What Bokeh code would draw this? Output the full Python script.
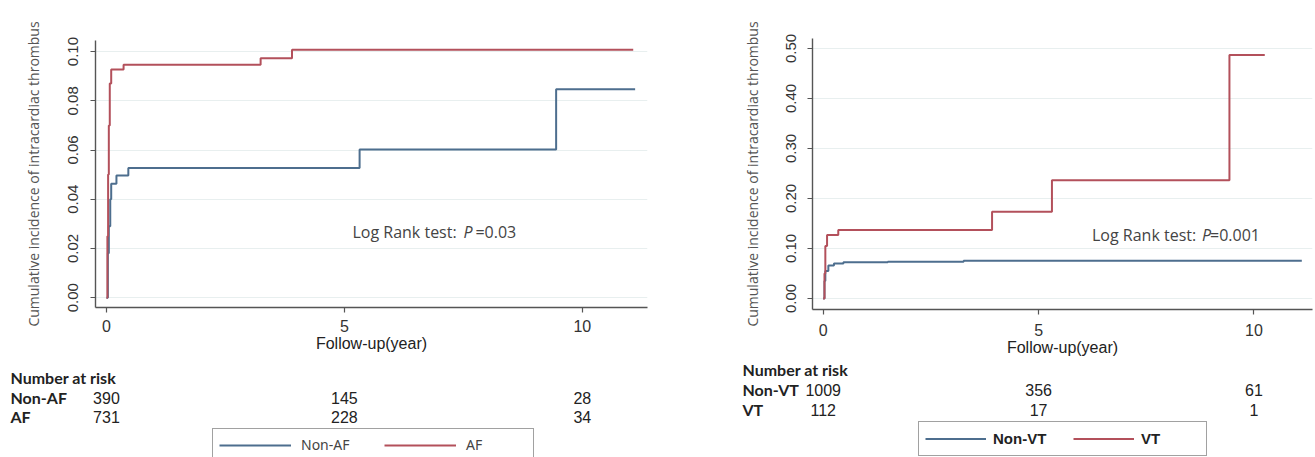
from bokeh.plotting import figure
from bokeh.models import Range1d, NumeralTickFormatter, FixedTicker, Label, Legend, LegendItem
from bokeh.layouts import row, column
from bokeh.embed import file_html
from bokeh.resources import INLINE
from bokeh.core.properties import value

# ---------------- data ----------------
# Panel A: AF vs Non-AF (cumulative incidence, step after)
af_time = [0, 0.02, 0.035, 0.05, 0.07, 0.10, 0.36, 3.24, 3.90, 11.07]
af_inc = [0, 0.025, 0.05, 0.07, 0.087, 0.0927, 0.0946, 0.0973, 0.1007, 0.1007]
nonaf_time = [0, 0.03, 0.05, 0.08, 0.10, 0.21, 0.46, 5.32, 9.45, 11.11]
nonaf_inc = [0, 0.018, 0.029, 0.040, 0.0463, 0.0496, 0.0527, 0.0602, 0.0847, 0.0847]

# Panel B: VT vs Non-VT
vt_time = [0, 0.03, 0.05, 0.09, 0.35, 3.92, 5.31, 9.43, 10.25]
vt_inc = [0, 0.05, 0.105, 0.127, 0.137, 0.1736, 0.2366, 0.487, 0.487]
nonvt_time = [0, 0.03, 0.05, 0.12, 0.25, 0.47, 1.5, 3.26, 11.11]
nonvt_inc = [0, 0.035, 0.055, 0.066, 0.070, 0.0725, 0.0735, 0.0755, 0.0755]

risk_times = [0, 5, 10]
risk_nonaf = [390, 145, 28]
risk_af = [731, 228, 34]
risk_nonvt = [1009, 356, 61]
risk_vt = [112, 17, 1]

x_ticks = [0, 5, 10]
y_ticks_a = [0.0, 0.02, 0.04, 0.06, 0.08, 0.10]
y_ticks_b = [0.0, 0.1, 0.2, 0.3, 0.4, 0.5]

BLUE = "#4d6e8e"
RED = "#b3505b"
GRID = "#e8efef"
AXIS = "#555555"

YLABEL = "Cumulative incidence of intracardiac thrombus"
XLABEL = "Follow-up(year)"

MAIN_H = 358
TABLE_H = 99


def no_align(fig):
    try:
        fig.frame_align = False
    except AttributeError:
        pass


def main_plot(width, xr, yr, yticks, borders, series, logrank, stand):
    bl, br, bt, bb = borders
    p = figure(width=width, height=MAIN_H, x_range=Range1d(*xr), y_range=Range1d(*yr),
               output_backend="svg", toolbar_location=None,
               min_border_left=bl, min_border_right=br, min_border_top=bt, min_border_bottom=bb)
    no_align(p)
    p.outline_line_color = None
    p.background_fill_color = "white"
    p.xgrid.visible = False
    p.ygrid.grid_line_color = GRID
    p.ygrid.grid_line_width = 1.2
    p.xaxis.ticker = FixedTicker(ticks=x_ticks)
    p.yaxis.ticker = FixedTicker(ticks=yticks)
    p.yaxis.formatter = NumeralTickFormatter(format="0.00")
    p.yaxis.major_label_orientation = "vertical"
    for ax in (p.xaxis, p.yaxis):
        ax.axis_line_color = AXIS
        ax.axis_line_width = 1.4
        ax.major_tick_line_color = AXIS
        ax.major_tick_line_width = 1.2
        ax.major_tick_in = 0
        ax.major_tick_out = 5
        ax.minor_tick_line_color = None
        ax.major_label_text_font = "Liberation Sans"
        ax.major_label_text_color = "#333333"
    ys, yls, xs = stand
    p.yaxis.major_label_text_font_size = "15px"
    p.xaxis.major_label_text_font_size = "16px"
    p.yaxis.major_label_standoff = ys
    p.xaxis.major_label_standoff = xs
    p.yaxis.axis_label = YLABEL
    p.yaxis.axis_label_text_font = "Open Sans"
    p.yaxis.axis_label_text_font_size = "14px"
    p.yaxis.axis_label_text_font_style = "normal"
    p.yaxis.axis_label_text_color = "#555555"
    p.yaxis.axis_label_standoff = yls
    p.xaxis.axis_label = XLABEL
    p.xaxis.axis_label_text_font = "Liberation Sans"
    p.xaxis.axis_label_text_font_size = "16px"
    p.xaxis.axis_label_text_font_style = "normal"
    p.xaxis.axis_label_text_color = "#222222"
    p.xaxis.axis_label_standoff = 0
    for t, y, c in series:
        p.step(x=t, y=y, mode="after", line_color=c, line_width=2)
    lx, ly, off_p, off_v, val = logrank
    common = dict(x=lx, y=ly, text_font="Open Sans", text_font_size="16px",
                  text_color="#444444", text_baseline="middle")
    p.add_layout(Label(text="Log Rank test:", **common))
    p.add_layout(Label(text="P", x_offset=off_p, text_font_style="italic", **common))
    p.add_layout(Label(text=val, x_offset=off_v, **common))
    return p


def table_plot(width, xr, main_borders, rows, label_off, legend_cfg):
    bl, br = main_borders
    scale = (xr[1] - xr[0]) / (width - bl - br)
    start = xr[0] - bl * scale
    end = start + width * scale
    t = figure(width=width, height=TABLE_H, x_range=Range1d(start, end), y_range=Range1d(0, TABLE_H),
               output_backend="svg", toolbar_location=None, min_border=0,
               min_border_left=0, min_border_right=0, min_border_top=0, min_border_bottom=0,
               x_axis_type=None, y_axis_type=None)
    no_align(t)
    t.outline_line_color = None
    t.xgrid.visible = False
    t.ygrid.visible = False
    lab = dict(x_offset=label_off, text_font=value("Lato"), text_font_style="bold",
               text_font_size="16px", text_color="#222222", text_baseline="middle",
               text_align="left")
    t.text(x=[start], y=[rows[0]], text=["Number at risk"], **lab)
    for name, counts, yy in rows[1:]:
        t.text(x=[start], y=[yy], text=[name], **lab)
        t.text(x=risk_times, y=[yy] * len(risk_times), text=[str(c) for c in counts],
               text_font=value("Liberation Sans"), text_font_size="16px",
               text_color="#222222", text_baseline="middle", text_align="center")
    (labels, loc, gw, gh, standoff, lw, spacing, pad, font, fsize, fstyle, fcolor) = legend_cfg
    # legend-only renderers (single point far below the visible range draws no line)
    r1 = t.line(x=[0], y=[-1000], line_color=BLUE, line_width=2)
    r2 = t.line(x=[0], y=[-1000], line_color=RED, line_width=2)
    leg = Legend(items=[LegendItem(label=labels[0], renderers=[r1]),
                        LegendItem(label=labels[1], renderers=[r2])],
                 orientation="horizontal", location=loc, glyph_width=gw, glyph_height=gh,
                 label_standoff=standoff, label_width=lw, label_height=gh,
                 spacing=spacing, padding=pad, margin=0,
                 border_line_color="#444444", border_line_width=1,
                 background_fill_color="white", background_fill_alpha=1,
                 label_text_font=font, label_text_font_size=fsize,
                 label_text_font_style=fstyle, label_text_color=fcolor)
    t.add_layout(leg, "center")
    return t


# ---------------- Panel A ----------------
WA = 660
xa = (-0.23, 11.37)
ya = (-0.004, 0.1045)
pa = main_plot(WA, xa, ya, y_ticks_a, (95, 13, 40, 51),
               [(nonaf_time, nonaf_inc, BLUE), (af_time, af_inc, RED)],
               (5.17, 0.0265, 111, 123, "=0.03"), (12, 23, 7))
ta = table_plot(WA, xa, (95, 13),
                [80, ("Non-AF", risk_nonaf, 60), ("AF", risk_af, 41)], 10,
                (("Non-AF", "AF"), (212, -4), 72, 18, 10, 61, 22, 6,
                 "Noto Sans", "14px", "normal", "#444444"))

# ---------------- Panel B ----------------
WB = 655
xb = (-0.248, 11.358)
yb = (-0.022, 0.52)
pb = main_plot(WB, xb, yb, y_ticks_b, (152, 3, 38, 48),
               [(nonvt_time, nonvt_inc, BLUE), (vt_time, vt_inc, RED)],
               (6.24, 0.127, 110, 118, "=0.001"), (12, 21, 9))
tb = table_plot(WB, xb, (152, 3),
                [88, ("Non-VT", risk_nonvt, 68), ("VT", risk_vt, 48)], 82,
                (("Non-VT", "VT"), (258, 1), 61, 21, 7, 59, 21, 6,
                 "Liberation Sans", "15px", "bold", "#222222"))

layout = row(column(pa, ta, spacing=0), column(pb, tb, spacing=0), spacing=0)

open("out.html", "w").write(file_html(layout, INLINE))
